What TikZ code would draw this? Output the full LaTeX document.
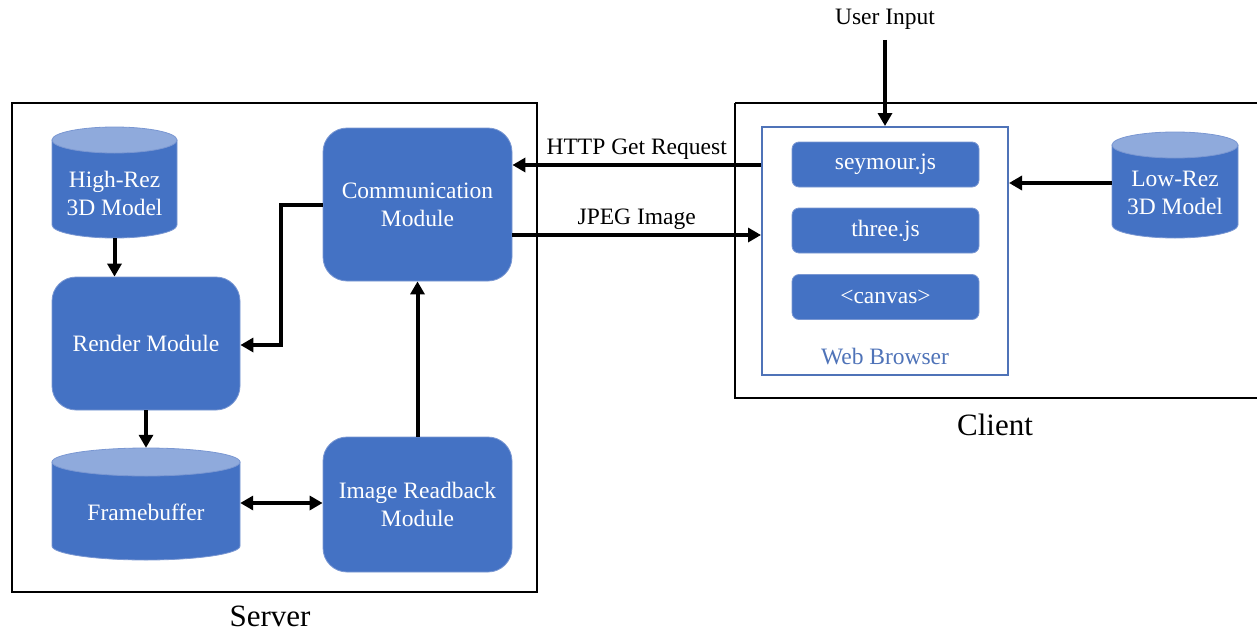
\documentclass[tikz,border=0pt]{standalone}
\usepackage{fontspec}
\setmainfont{Liberation Serif}
\usetikzlibrary{arrows.meta}
\definecolor{mblue}{HTML}{4472C4}
\definecolor{mlight}{HTML}{8FAADC}
\definecolor{medge}{HTML}{7A97D2}
\definecolor{wbblue}{HTML}{4F73B8}
\begin{document}
\begin{tikzpicture}[x=1pt,y=-1pt,
  every node/.style={font=\fontsize{23.5}{28}\selectfont, align=center, inner sep=0pt},
  modbox/.style={draw=medge, line width=0.8pt, fill=mblue, rounded corners=24pt, text=white},
  jsbox/.style={draw=medge, line width=0.8pt, fill=mblue, rounded corners=7pt, text=white, minimum width=187pt, minimum height=45pt},
  cylnode/.style={draw=none},
  wtext/.style={text=white},
  frame/.style={draw=black, line width=2pt},
  conn/.style={line width=4pt, -{Triangle[length=13pt,width=14pt]}},
  conn2/.style={line width=4pt, {Triangle[length=13pt,width=14pt]}-{Triangle[length=13pt,width=14pt]}},
  cylbody/.style={fill=mblue, draw=medge, line width=0.8pt},
  cyltop/.style={fill=mlight, draw=medge, line width=0.8pt}
]
\useasboundingbox (0,0) rectangle (1257,634);

% frames
\draw[frame] (12,103) rectangle (537,592);
\draw[frame] (735,103) -- (1258,103) (735,103) -- (735,398) -- (1258,398);
\node (server) at (270,616) [font=\fontsize{31}{36}\selectfont] {Server};
\node (client) at (995,425) [font=\fontsize{31}{36}\selectfont] {Client};

% High-Rez cylinder
\fill[cylbody] (52,140) -- (52,225) arc[start angle=180,end angle=360,x radius=62.5pt,y radius=13pt] -- (177,140) -- cycle;
\draw[cyltop] (114.5,140) ellipse [x radius=62.5pt, y radius=13pt];
\node[cylnode, minimum width=125pt, minimum height=111pt] (hr) at (114.5,182.5) {};
\node[wtext] (hrt) at (114.5,193) {High-Rez\\3D Model};

% Framebuffer cylinder
\fill[cylbody] (52,462) -- (52,546) arc[start angle=180,end angle=360,x radius=94pt,y radius=14pt] -- (240,462) -- cycle;
\draw[cyltop] (146,462) ellipse [x radius=94pt, y radius=14pt];
\node[cylnode, minimum width=188pt, minimum height=112pt] (fb) at (146,504) {};
\node[wtext] (fbt) at (146,512) {Framebuffer};

% Low-Rez cylinder
\fill[cylbody] (1112,145) -- (1112,225) arc[start angle=180,end angle=360,x radius=63pt,y radius=13pt] -- (1238,145) -- cycle;
\draw[cyltop] (1175,145) ellipse [x radius=63pt, y radius=13pt];
\node[cylnode, minimum width=126pt, minimum height=106pt] (lr) at (1175,185) {};
\node[wtext] (lrt) at (1175,193) {Low-Rez\\3D Model};

% modules
\node[modbox, minimum width=188pt, minimum height=133pt] (rm) at (146,343.5) {Render Module};
\node[modbox, minimum width=189pt, minimum height=153pt] (cm) at (417.5,204.5) {Communication\\Module};
\node[modbox, minimum width=189pt, minimum height=135pt] (ir) at (417.5,504.5) {Image Readback\\Module};

% web browser
\node[draw=wbblue, line width=2pt, minimum width=246pt, minimum height=248pt] (wb) at (885,251) {};
\node[text=wbblue] (wbl) at (885,357) {Web Browser};
\node[jsbox] (sj) at (885.5,164.5) {seymour.js};
\node[jsbox] (tj) at (885.5,230.5) {three.js};
\node[jsbox] (cv) at (885.5,297) {<canvas>};

% user input
\node (ui) at (885,19) {User Input};
\coordinate (uistart) at (885,40);

% connectors
\draw[conn] (uistart) -- (wb.north);
\draw[conn] (wb.west |- 0,165) -- (cm.east |- 0,165) node[pos=0.5, above=3pt] (httpl) {HTTP Get Request};
\draw[conn] (cm.east |- 0,235) -- (wb.west |- 0,235) node[pos=0.5, above=3pt] (jpegl) {JPEG Image};
\draw[conn] (lr.west |- 0,183) -- (wb.east |- 0,183);
\draw[conn] (hr.south) -- (hr.south |- rm.north);
\draw[conn] (rm.south) -- (fb.north);
\draw[conn2] (fb.east |- 0,503) -- (ir.west |- 0,503);
\draw[conn] (ir.north) -- (cm.south);
\draw[conn] (cm.west |- 0,205) -- (281,205) -- (281,345) -- (rm.east |- 0,345);
\end{tikzpicture}
\end{document}
